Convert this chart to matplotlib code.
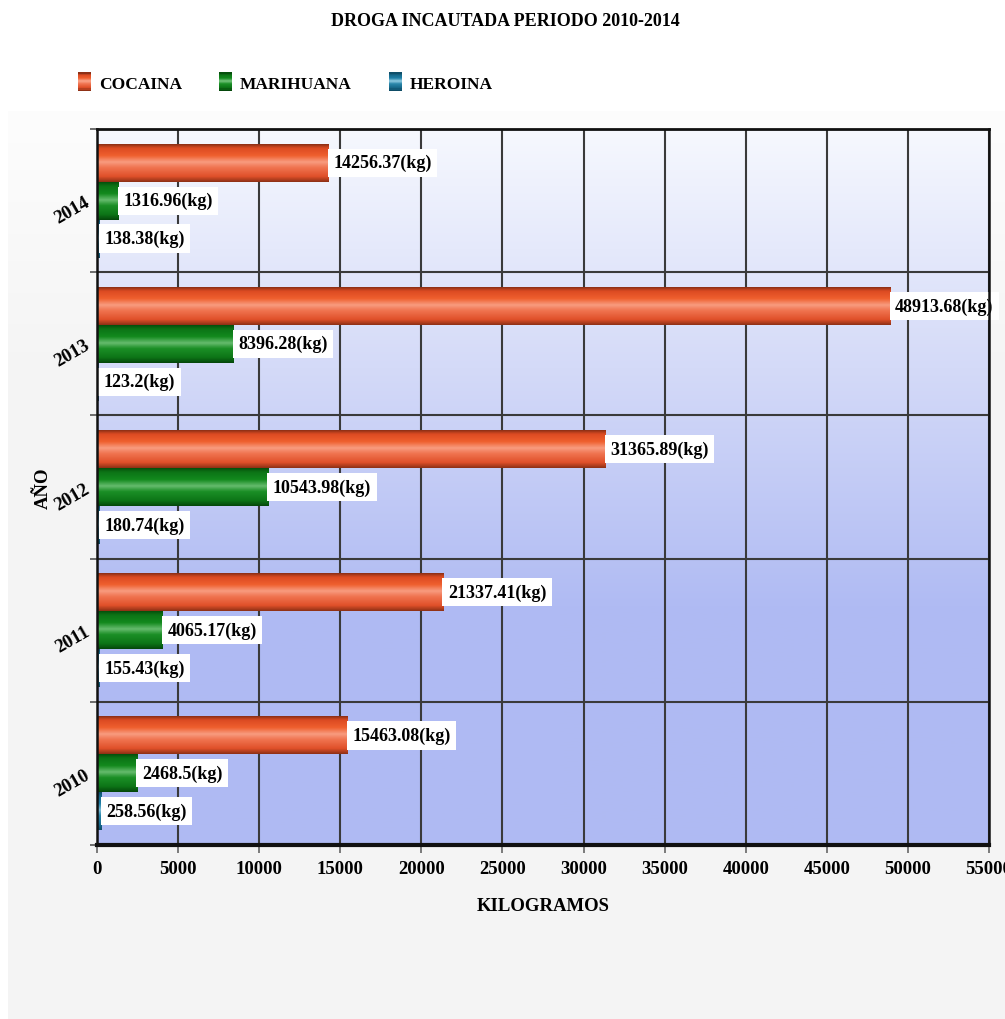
import numpy as np
import matplotlib
matplotlib.use("Agg")
import matplotlib.pyplot as plt
from matplotlib.colors import LinearSegmentedColormap
from matplotlib.patches import Patch, Rectangle
from matplotlib.legend_handler import HandlerBase

# Seized drug quantities (kg) per year
years = ["2010", "2011", "2012", "2013", "2014"]
cocaina = [15463.08, 21337.41, 31365.89, 48913.68, 14256.37]
marihuana = [2468.5, 4065.17, 10543.98, 8396.28, 1316.96]
heroina = [258.56, 155.43, 180.74, 123.2, 138.38]
series_names = ["COCAINA", "MARIHUANA", "HEROINA"]
x_ticks = list(range(0, 55001, 5000))

plt.rcParams["font.family"] = ["Liberation Serif", "DejaVu Serif"]
plt.rcParams["font.weight"] = "bold"

# cylinder-like shading across each bar (top -> bottom)
shades = {
    "COCAINA": ["#8e3016", "#dc4b22", "#ef5f2e", "#f89c80", "#f07450", "#e0502a", "#8f3116"],
    "MARIHUANA": ["#06500c", "#0c7416", "#12891d", "#66bb6e", "#1b8f26", "#0d7517", "#05480b"],
    "HEROINA": ["#0f4f6a", "#16688a", "#1f7fa6", "#7ebfd8", "#2a86aa", "#176a8c", "#0e4c66"],
}
solid = {"COCAINA": "#e8542a", "MARIHUANA": "#128a1e", "HEROINA": "#1f7fa6"}
stops = [0.0, 0.1, 0.3, 0.47, 0.62, 0.86, 1.0]
cmaps = {n: LinearSegmentedColormap.from_list(n, list(zip(stops, shades[n]))) for n in series_names}


class ShadedSwatch(HandlerBase):
    """Legend key drawn as horizontal strips following the bar shading."""

    def create_artists(self, legend, orig_handle, xdescent, ydescent,
                       width, height, fontsize, trans):
        cmap = cmaps[orig_handle.get_label()]
        n = 16
        arts = []
        for k in range(n):
            y = -ydescent + height * (1 - (k + 1) / n)
            arts.append(Rectangle((-xdescent, y), width, height / n + 0.05,
                                  facecolor=cmap(k / (n - 1)), edgecolor="none",
                                  transform=trans))
        return arts


fig = plt.figure(figsize=(10.05, 10.2), dpi=100, facecolor="white")

# light grey panel behind the plot
panel = fig.add_axes([8 / 1005, 0, 1 - 8 / 1005, 908 / 1020], zorder=-5)
pg = np.concatenate([np.linspace(0.992, 0.957, 60), np.full(140, 0.957)])
panel.imshow(np.dstack([pg, pg, pg]).reshape(200, 1, 3), aspect="auto",
             extent=(0, 1, 0, 1), origin="upper")
panel.set_axis_off()

ax = fig.add_axes([97 / 1005, 1 - 846 / 1020, 892 / 1005, 716 / 1020])

# plot background gradient
bg_cmap = LinearSegmentedColormap.from_list("bg", ["#f6f8fe", "#d4daf8", "#b0bbf3", "#afbaf3"])
ax.imshow(np.linspace(0, 1, 256)[:, None], cmap=bg_cmap, aspect="auto",
          extent=(0, 1, 0, 1), transform=ax.transAxes, origin="upper", zorder=0)

h = 0.265
ypos = np.arange(len(years))
series = [cocaina, marihuana, heroina]
offsets = [h, 0.0, -h]

for name, vals, off in zip(series_names, series, offsets):
    bars = ax.barh(ypos + off, vals, height=h, color=solid[name], zorder=2, linewidth=0)
    for bar, v in zip(bars, vals):
        x0, y0 = bar.get_x(), bar.get_y()
        x1, y1 = x0 + bar.get_width(), y0 + bar.get_height()
        ax.imshow(np.linspace(0, 1, 64)[:, None], cmap=cmaps[name], aspect="auto",
                  extent=(x0, x1, y0, y1), origin="upper", zorder=3,
                  interpolation="bilinear")
        ax.annotate(f"{v}(kg)", xy=(x1, (y0 + y1) / 2), xytext=(3.5, 0),
                    textcoords="offset points", ha="left", va="center",
                    fontsize=13, fontweight="bold", zorder=6, annotation_clip=False,
                    bbox=dict(boxstyle="square,pad=0.3", fc="white", ec="none"))

ax.set_xlim(0, 55000)
ax.set_ylim(-0.5, len(years) - 0.5)

ax.set_xticks(x_ticks)
ax.set_xticklabels([str(t) for t in x_ticks], fontsize=13.5, fontweight="bold")
ax.set_yticks(ypos)
ax.set_yticklabels(years, fontsize=13.5, fontweight="bold", rotation=30,
                   ha="right", va="center", rotation_mode="anchor")
ax.set_yticks(np.arange(-0.5, len(years), 1.0), minor=True)

ax.tick_params(axis="x", length=6, width=1.2, color="#666666", pad=5)
ax.tick_params(axis="y", which="major", length=0, pad=6)
ax.tick_params(axis="y", which="minor", length=5, width=1.2, color="#555555")

ax.grid(axis="x", which="major", color="#3a3a3a", linewidth=1.5, zorder=1)
ax.grid(axis="y", which="minor", color="#3a3a3a", linewidth=1.5, zorder=1)
ax.set_axisbelow(True)

for side, lw in (("top", 2.0), ("bottom", 3.0), ("left", 1.8), ("right", 1.8)):
    ax.spines[side].set_linewidth(lw)
    ax.spines[side].set_color("#111111")
    ax.spines[side].set_zorder(7)

ax.set_xlabel("KILOGRAMOS", fontsize=13.5, fontweight="bold", labelpad=14)
ax.set_ylabel("AÑO", fontsize=13.5, fontweight="bold")
ax.yaxis.set_label_coords(-0.051, 0.5)

fig.text(0.503, 1 - 22 / 1020, "DROGA INCAUTADA PERIODO 2010-2014",
         ha="center", va="center", fontsize=13, fontweight="bold")

handles = [Patch(label=n) for n in series_names]
fig.legend(handles, series_names, loc="center left", bbox_to_anchor=(78 / 1005, 1 - 83 / 1020),
           ncol=3, frameon=False, prop=dict(size=12.5, weight="bold"), handlelength=0.75,
           handleheight=1.25, handletextpad=0.45, columnspacing=2.15,
           borderaxespad=0, borderpad=0,
           handler_map={Patch: ShadedSwatch()})

fig.savefig("out.png", dpi=100, facecolor="white")
